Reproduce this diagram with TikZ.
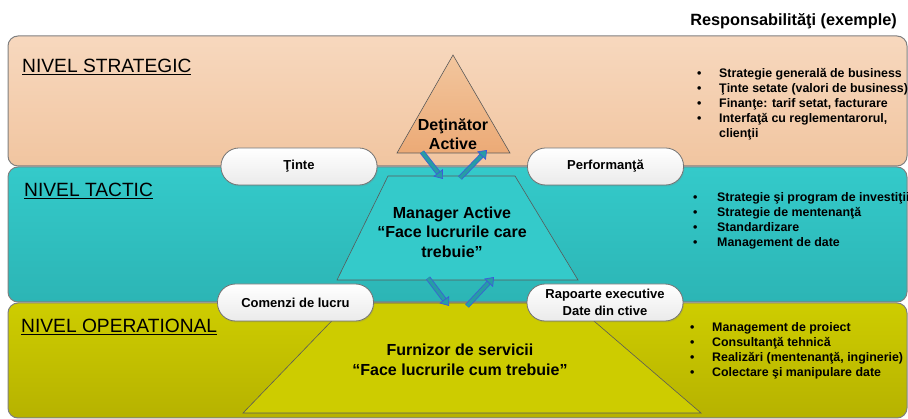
\documentclass[tikz,border=0pt]{standalone}
\usepackage{fontspec}
\setmainfont{Liberation Sans}
\usepackage{tikz}
\usetikzlibrary{arrows.meta,shadows}

\definecolor{stratTop}{RGB}{247,216,190}
\definecolor{stratBot}{RGB}{241,197,160}
\definecolor{tactTop}{RGB}{52,202,202}
\definecolor{tactBot}{RGB}{44,181,181}
\definecolor{operTop}{RGB}{206,205,0}
\definecolor{operBot}{RGB}{182,178,0}
\definecolor{ownerTop}{RGB}{242,198,158}
\definecolor{ownerBot}{RGB}{236,170,118}
\definecolor{arrowline}{RGB}{62,88,218}
\definecolor{arrowfill}{RGB}{38,156,166}

\begin{document}
\begin{tikzpicture}[x=1pt,y=-1pt,
    band/.style={draw=black!50, line width=1pt, rounded corners=10pt},
    level/.style={anchor=base west, inner sep=0pt, font=\fontsize{19.2}{23}\selectfont},
    pyramid/.style={draw=black!65, line width=0.6pt},
    role/.style={align=center, inner sep=0pt, font=\fontsize{16}{19.5}\selectfont\bfseries},
    bubble/.style={draw=black!55, line width=0.8pt, rounded corners=18pt, top color=white,
      bottom color=black!8, minimum width=156pt, minimum height=37pt, align=center,
      inner sep=0pt, font=\fontsize{13}{17}\selectfont\bfseries,
      drop shadow={opacity=0.2, shadow xshift=1pt, shadow yshift=-1.5pt}},
    bullets/.style={anchor=base west, inner sep=0pt, font=\fontsize{12.4}{14.8}\selectfont\bfseries},
    blockarrow/.style={draw=arrowline, double=arrowfill, double distance=3.6pt, line width=0.7pt,
      -{Triangle[width=12pt, length=8pt, fill=arrowfill]}}
  ]
    \path[use as bounding box, clip] (0,0) rectangle (908,419);

    % draw level bands
    \draw[band, top color=stratTop, bottom color=stratBot] (8,36) rectangle (907,166);
    \draw[band, top color=tactTop, bottom color=tactBot] (8,167) rectangle (907,302);
    \draw[band, top color=operTop, bottom color=operBot] (8,303) rectangle (907,418);

    % draw level names
    \node[level] (strategic) at (22,73) {\underline{NIVEL STRATEGIC}};
    \node[level] (tactic) at (24,197) {\underline{NIVEL TACTIC}};
    \node[level] (operational) at (21,333) {\underline{NIVEL OPERATIONAL}};

    % draw pyramid parts
    \draw[pyramid, top color=ownerTop, bottom color=ownerBot] (397,153) -- (453,55) -- (510,153) -- cycle;
    \draw[pyramid, fill=tactTop] (388,176) -- (515,176) -- (578,280) -- (337,280) -- cycle;
    \draw[pyramid, fill=operTop!95!operBot] (349,303) -- (573,303) -- (701,413) -- (243,413) -- cycle;

    \node[role] (owner) at (453,134) {Deţinător\\Active};
    \node[role] (manager) at (452,232) {Manager Active\\“Face lucrurile care\\trebuie”};
    \node[role] (provider) at (460,360) {Furnizor de servicii\\“Face lucrurile cum trebuie”};

    % draw arrows between levels
    \coordinate (d1s) at (422,152); \coordinate (d1e) at (443,179);
    \coordinate (u1s) at (460,178); \coordinate (u1e) at (487,150);
    \coordinate (d2s) at (428,278); \coordinate (d2e) at (449,306);
    \coordinate (u2s) at (467,306); \coordinate (u2e) at (494,277);
    \foreach \s/\e in {d1s/d1e,u1s/u1e,d2s/d2e,u2s/u2e}
      \draw[blockarrow] (\s) -- (\e);

    % draw bubbles
    \node[bubble] (goals) at (299,166.5) {Ţinte};
    \node[bubble] (performance) at (605.5,166.5) {Performanţă};
    \node[bubble] (orders) at (295.5,302.5) {Comenzi de lucru};
    \node[bubble] (reports) at (605,302.5) {Rapoarte executive\\Date din ctive};

    % draw responsibilities
    \node[anchor=base east, inner sep=0pt, font=\fontsize{16.3}{19}\selectfont\bfseries]
      (resp) at (897,26) {Responsabilităţi (exemple)};
    \node[bullets] (stratlist) at (697,78) {\begin{tabular}[t]{@{}p{22pt}@{}l@{}}
      • & Strategie generală de business\\
      • & Ţinte setate (valori de business)\\
      • & Finanţe: tarif setat, facturare\\
      • & Interfaţă cu reglementarorul,\\
        & clienţii
    \end{tabular}};
    \node[bullets] (tactlist) at (693,202) {\begin{tabular}[t]{@{}p{24pt}@{}l@{}}
      • & Strategie şi program de investiţii\\
      • & Strategie de mentenanţă\\
      • & Standardizare\\
      • & Management de date
    \end{tabular}};
    \node[bullets] (operlist) at (690,332) {\begin{tabular}[t]{@{}p{22pt}@{}l@{}}
      • & Management de proiect\\
      • & Consultanţă tehnică\\
      • & Realizări (mentenanţă, inginerie)\\
      • & Colectare şi manipulare date
    \end{tabular}};
\end{tikzpicture}
\end{document}
